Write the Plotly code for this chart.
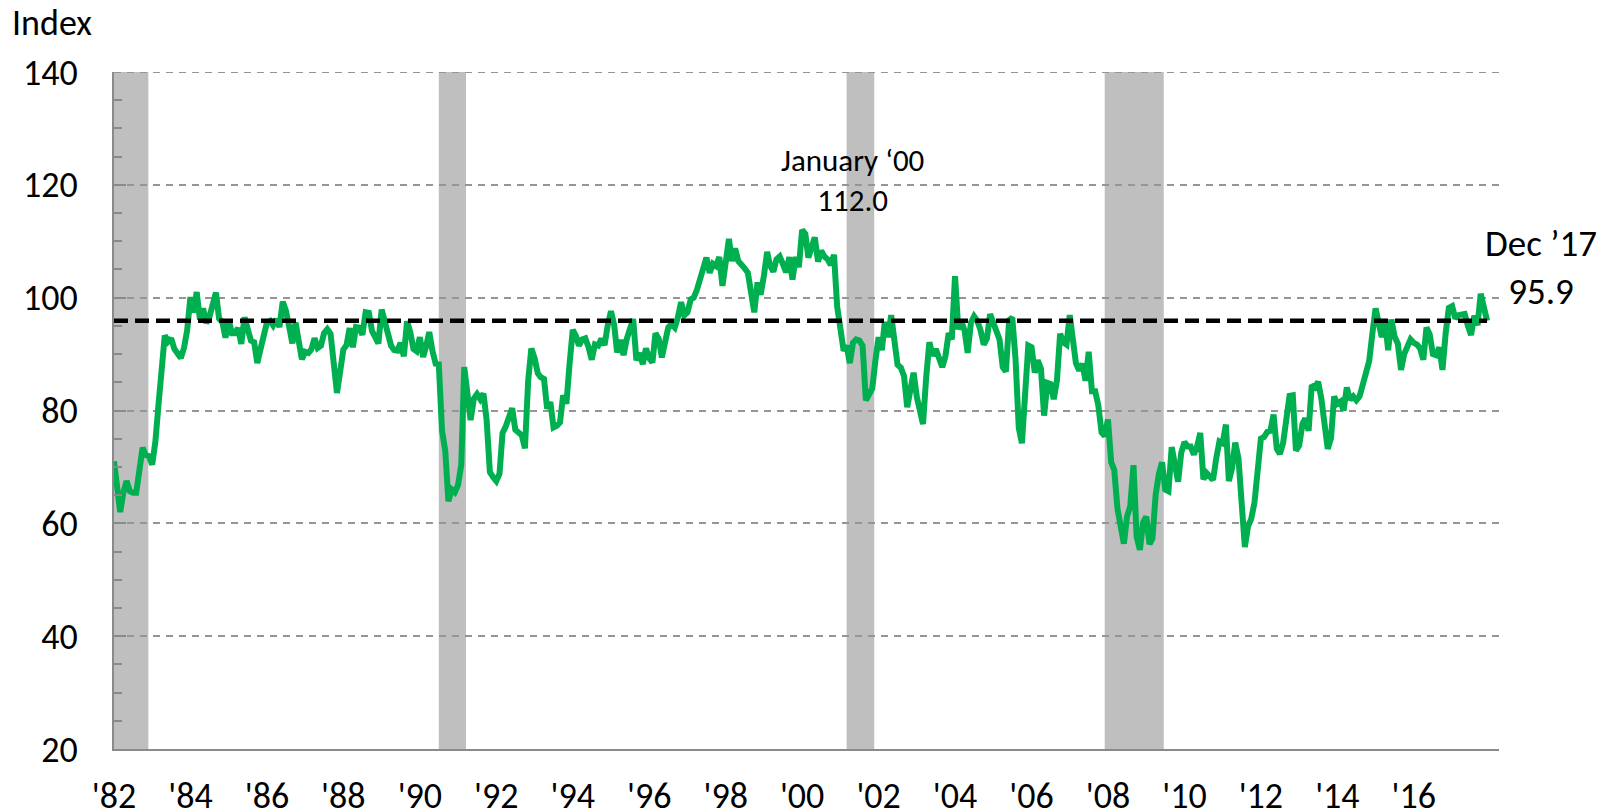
import pandas as pd
import plotly.graph_objects as go

# ---------------- data ----------------
start_month = "1982-01-01"
end_month = "2017-12-01"

sentiment_1980s = [
    71.0, 66.5, 62.0, 65.5, 67.5, 65.7, 65.4, 65.4, 69.3, 73.4, 72.1, 71.9,   # 1982
    70.4, 74.6, 80.8, 89.1, 93.3, 92.2, 92.8, 90.9, 89.9, 89.3, 91.1, 94.2,   # 1983
    100.1, 97.4, 101.0, 96.1, 98.1, 95.5, 96.6, 99.1, 100.9, 96.3, 95.7, 92.9,  # 1984
    96.0, 93.7, 93.7, 94.6, 91.8, 96.5, 94.0, 92.4, 92.1, 88.4, 90.9, 93.9,   # 1985
    95.6, 95.9, 95.1, 96.2, 94.8, 99.3, 97.7, 94.9, 91.9, 95.6, 91.4, 89.1,   # 1986
    90.4, 90.2, 90.8, 92.8, 91.1, 91.5, 93.7, 94.4, 93.6, 89.3, 83.1, 86.8,   # 1987
    90.8, 91.6, 94.6, 91.2, 94.8, 94.7, 93.4, 97.4, 97.3, 94.1, 93.0, 91.9,   # 1988
    97.9, 95.4, 94.3, 91.5, 90.7, 90.6, 92.0, 89.6, 95.8, 93.9, 90.9, 90.5,   # 1989
]
sentiment_1990s = [
    93.0, 89.5, 91.3, 93.9, 90.6, 88.3, 88.2, 76.4, 72.8, 63.9, 66.0, 65.5,   # 1990
    66.8, 70.4, 87.7, 81.8, 78.3, 82.1, 82.9, 82.0, 83.0, 78.3, 69.1, 68.2,   # 1991
    67.5, 68.8, 76.0, 77.2, 79.2, 80.4, 76.6, 76.1, 75.6, 73.3, 85.3, 91.0,   # 1992
    89.3, 86.6, 85.9, 85.6, 80.3, 81.5, 77.0, 77.3, 77.9, 82.7, 81.2, 88.2,   # 1993
    94.3, 93.2, 91.5, 92.6, 92.8, 91.2, 89.0, 91.7, 91.5, 92.7, 91.6, 95.1,   # 1994
    97.6, 95.1, 90.3, 92.5, 89.8, 92.7, 94.4, 96.2, 88.9, 90.2, 88.2, 91.0,   # 1995
    89.3, 88.5, 93.7, 92.7, 89.4, 92.4, 94.7, 95.3, 94.7, 96.5, 99.2, 96.9,   # 1996
    97.4, 99.7, 100.0, 101.4, 103.2, 104.5, 107.1, 104.4, 106.0, 105.6, 107.2, 102.1,  # 1997
    106.6, 110.4, 106.5, 108.7, 106.5, 105.6, 105.2, 104.4, 100.9, 97.4, 102.7, 100.5,  # 1998
    103.9, 108.1, 105.7, 104.6, 106.8, 107.3, 106.0, 104.5, 107.2, 103.2, 107.2, 105.4,  # 1999
]
sentiment_2000s = [
    112.0, 111.3, 107.1, 109.2, 110.7, 106.4, 108.3, 107.3, 106.8, 105.8, 107.6, 98.4,  # 2000
    94.7, 90.6, 91.5, 88.4, 92.0, 92.6, 92.4, 91.5, 81.8, 82.7, 83.9, 88.8,   # 2001
    93.0, 90.7, 95.7, 93.0, 96.9, 92.4, 88.1, 87.6, 86.1, 80.6, 84.2, 86.7,   # 2002
    82.4, 79.9, 77.6, 86.0, 92.1, 89.7, 90.9, 89.3, 87.7, 89.6, 93.7, 92.6,   # 2003
    103.8, 94.4, 95.8, 94.2, 90.2, 95.6, 96.7, 95.9, 94.2, 91.7, 92.8, 97.1,  # 2004
    95.5, 94.1, 92.6, 87.7, 86.9, 96.0, 96.5, 89.1, 76.9, 74.2, 81.6, 91.5,   # 2005
    91.2, 86.7, 88.9, 87.4, 79.1, 84.9, 84.7, 82.0, 85.4, 93.6, 92.1, 91.7,   # 2006
    96.9, 91.3, 88.4, 87.1, 88.3, 85.3, 90.4, 83.4, 83.4, 80.9, 76.1, 75.5,   # 2007
    78.4, 70.8, 69.5, 62.6, 59.8, 56.4, 61.2, 63.0, 70.3, 57.6, 55.3, 60.1,   # 2008
    61.2, 56.3, 57.3, 65.1, 68.7, 70.8, 66.0, 65.7, 73.5, 70.6, 67.4, 72.5,   # 2009
]
sentiment_2010s = [
    74.4, 73.6, 73.6, 72.2, 73.6, 76.0, 67.8, 68.9, 68.2, 67.7, 71.6, 74.5,   # 2010
    74.2, 77.5, 67.5, 69.8, 74.3, 71.5, 63.7, 55.8, 59.5, 60.8, 63.7, 69.9,   # 2011
    75.0, 75.3, 76.2, 76.4, 79.3, 73.2, 72.3, 74.3, 78.3, 82.6, 82.7, 72.9,   # 2012
    73.8, 77.6, 78.6, 76.4, 84.5, 84.1, 85.1, 82.1, 77.5, 73.2, 75.1, 82.5,   # 2013
    81.2, 81.6, 80.0, 84.1, 81.9, 82.5, 81.8, 82.5, 84.6, 86.9, 88.8, 93.6,   # 2014
    98.1, 95.4, 93.0, 95.9, 90.7, 96.1, 93.1, 91.9, 87.2, 90.0, 91.3, 92.6,   # 2015
    92.0, 91.7, 91.0, 89.0, 94.7, 93.5, 90.0, 89.8, 91.2, 87.2, 93.8, 98.2,   # 2016
    98.5, 96.3, 96.9, 97.0, 97.1, 95.0, 93.4, 96.8, 95.1, 100.7, 98.5, 95.9,  # 2017
]

reference_level = 95.9

recession_starts = ["1982-01-01", "1990-07-01", "2001-03-01", "2007-12-01"]
recession_ends = ["1982-11-25", "1991-03-18", "2001-11-20", "2009-06-17"]

tick_dates = [f"{y}-01-01" for y in range(1982, 2017, 2)]
tick_labels = ["'82", "'84", "'86", "'88", "'90", "'92", "'94", "'96", "'98",
               "'00", "'02", "'04", "'06", "'08", "'10", "'12", "'14", "'16"]
y_ticks = [20, 40, 60, 80, 100, 120, 140]

peak_label = "January \u201800<br>112.0"
latest_label = "Dec \u201917<br>95.9"
y_title = "Index"

# ---------------- figure ----------------
values = sentiment_1980s + sentiment_1990s + sentiment_2000s + sentiment_2010s
dates = pd.date_range(start_month, end_month, freq="MS")

FONT = "Carlito, Calibri, Lato, sans-serif"
GRAY = "#8a8a8a"
GRID = "#959595"
GRID_DASH = "7px,6px"

fig = go.Figure()

fig.add_trace(go.Scatter(
    x=dates, y=values, mode="lines",
    line=dict(color="#00B050", width=6),
    hoverinfo="x+y", showlegend=False,
))
fig.add_trace(go.Scatter(
    x=[dates[0], dates[-1]], y=[reference_level, reference_level], mode="lines",
    line=dict(color="#000000", width=4.5, dash="14px,7px"),
    hoverinfo="skip", showlegend=False,
))

for s, e in zip(recession_starts, recession_ends):
    fig.add_shape(type="rect", xref="x", yref="paper", x0=s, x1=e, y0=0, y1=1,
                  fillcolor="#BFBFBF", line=dict(width=0), layer="between")

# top gridline (at the range edge, where plotly would skip it)
fig.add_shape(type="line", xref="paper", yref="y", x0=0, x1=1, y0=y_ticks[-1], y1=y_ticks[-1],
              line=dict(color=GRID, width=2, dash=GRID_DASH), layer="below")

W, H = 1612, 812
L, R, T, B = 114, 113, 72, 63
pw, ph = W - L - R, H - T - B

def px(x):
    return (x - L) / pw

def py(y):
    return (H - B - y) / ph

fig.add_annotation(text=y_title, xref="paper", yref="paper", x=px(10), y=py(23),
                   xanchor="left", yanchor="middle", showarrow=False,
                   font=dict(family=FONT, size=36, color="#000"))
fig.add_annotation(text=peak_label, xref="paper", yref="paper", x=px(852), y=py(180),
                   xanchor="center", yanchor="middle", showarrow=False, align="center",
                   font=dict(family=FONT, size=31, color="#000"))
fig.add_annotation(text=latest_label, xref="paper", yref="paper", x=px(1541), y=py(267),
                   xanchor="center", yanchor="middle", showarrow=False, align="center",
                   font=dict(family=FONT, size=37, color="#000"))

fig.update_layout(
    width=W, height=H, autosize=False,
    margin=dict(l=L, r=R, t=T, b=B, pad=0, autoexpand=False),
    paper_bgcolor="white", plot_bgcolor="white",
    font=dict(family=FONT, color="#000"),
    showlegend=False,
)
fig.update_xaxes(
    type="date", range=["1982-01-01", "2018-03-25"],
    tickvals=tick_dates, ticktext=tick_labels,
    tickfont=dict(family=FONT, size=36, color="#000"),
    showline=True, linecolor=GRAY, linewidth=2,
    ticks="", showgrid=False, zeroline=False,
    ticklabelstandoff=14, automargin=False,
)
fig.update_yaxes(
    range=[20, 140], tickvals=y_ticks,
    tickfont=dict(family=FONT, size=36, color="#000"),
    showline=True, linecolor=GRAY, linewidth=2,
    ticks="inside", ticklen=12, tickwidth=2, tickcolor=GRAY,
    minor=dict(dtick=5, tick0=20, ticks="inside", ticklen=8, tickwidth=1.5,
               tickcolor=GRAY, showgrid=False),
    showgrid=True, gridcolor=GRID, gridwidth=2, griddash=GRID_DASH,
    zeroline=False, ticklabelstandoff=27, automargin=False,
)

fig.write_html(
    "out.html",
    config={"displayModeBar": False},
    post_script="document.body.style.margin='0';document.body.style.overflow='hidden';",
)
